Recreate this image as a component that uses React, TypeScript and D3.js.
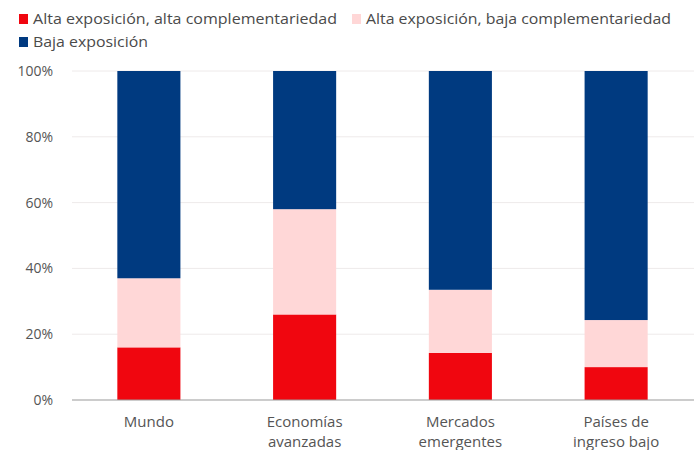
import React from "react";
import * as d3 from "d3";

const categories: string[][] = [
  ["Mundo"],
  ["Economías", "avanzadas"],
  ["Mercados", "emergentes"],
  ["Países de", "ingreso bajo"],
];
const seriesNames = [
  "Alta exposición, alta complementariedad",
  "Alta exposición, baja complementariedad",
  "Baja exposición",
];
const altaAlta = [16, 26, 14.3, 10];
const altaBaja = [21, 32, 19.2, 14.3];
const baja = [63, 42, 66.5, 75.7];
const colors = ["#F0060F", "#FFD7D7", "#003A80"];
const yTicks = [0, 20, 40, 60, 80, 100];

const W = 696;
const H = 450;
const margin = { left: 71, right: 2, top: 71, bottom: 50 };
const FONT = "'Open Sans', 'Noto Sans', sans-serif";

export default function App() {
  const x = d3
    .scaleBand<number>()
    .domain(categories.map((_, i) => i))
    .range([margin.left, W - margin.right])
    .paddingInner(0.595)
    .paddingOuter(0.2975);
  const y = d3.scaleLinear().domain([0, 100]).range([H - margin.bottom, margin.top]);

  const rows = categories.map((_, i) => ({
    i,
    a: altaAlta[i],
    b: altaBaja[i],
    c: baja[i],
  }));
  const stack = d3.stack<any>().keys(["a", "b", "c"]);
  const stacked = stack(rows);

  const legendItems = [
    { x: 19, y: 19, name: seriesNames[0], color: colors[0], len: 304 },
    { x: 352, y: 19, name: seriesNames[1], color: colors[1], len: 305 },
    { x: 19, y: 42, name: seriesNames[2], color: colors[2], len: 115 },
  ];

  return (
    <svg
      width={W}
      height={H}
      style={{ position: "absolute", left: 0, top: 0, background: "#fff" }}
      fontFamily={FONT}
    >
      {legendItems.map((l, k) => (
        <g key={k}>
          <rect x={l.x} y={l.y - 5} width={9} height={10} fill={l.color} />
          <text
            x={l.x + 14}
            y={l.y}
            dy="0.35em"
            fontSize={15}
            fill="#4a4a4a"
            textLength={l.len}
            lengthAdjust="spacingAndGlyphs"
          >
            {l.name}
          </text>
        </g>
      ))}
      {yTicks.map((t) => (
        <g key={t}>
          {t > 0 && (
            <line
              x1={margin.left + 1}
              x2={W - margin.right}
              y1={y(t)}
              y2={y(t)}
              stroke="#EEEAEA"
              strokeWidth={1}
            />
          )}
          <text
            x={53}
            y={y(t)}
            dy="0.35em"
            textAnchor="end"
            fontSize={14}
            fill="#555"
          >
            {t}%
          </text>
        </g>
      ))}
      {stacked.map((s, si) =>
        s.map((d, di) => (
          <rect
            key={`${si}-${di}`}
            x={x(di)!}
            width={x.bandwidth()}
            y={y(d[1])}
            height={y(d[0]) - y(d[1])}
            fill={colors[si]}
          />
        ))
      )}
      <line
        x1={margin.left + 1}
        x2={W - margin.right}
        y1={y(0)}
        y2={y(0)}
        stroke="#999"
        strokeWidth={1.2}
      />
      {categories.map((lines, i) => (
        <text
          key={i}
          x={x(i)! + x.bandwidth() / 2}
          y={422}
          textAnchor="middle"
          fontSize={15}
          fill="#555"
        >
          {lines.map((ln, k) => (
            <tspan key={k} x={x(i)! + x.bandwidth() / 2} dy={k === 0 ? "0.35em" : 20}>
              {ln}
            </tspan>
          ))}
        </text>
      ))}
    </svg>
  );
}
